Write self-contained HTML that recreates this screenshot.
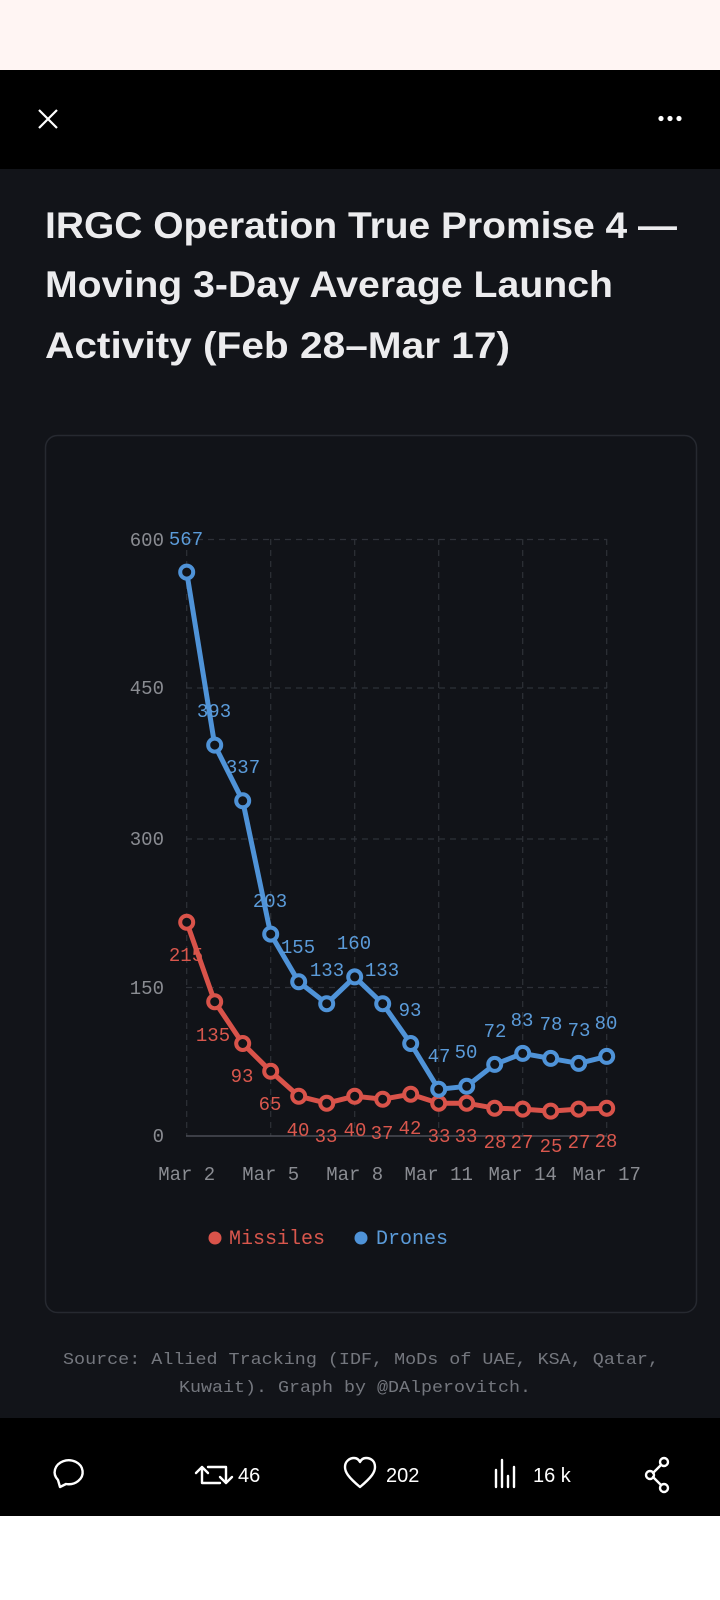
<!DOCTYPE html>
<html><head><meta charset="utf-8"><style>
html,body{margin:0;padding:0;width:720px;height:1600px;overflow:hidden;background:#fff}
svg{display:block}
</style></head><body>
<svg width="720" height="1600" viewBox="0 0 720 1600" xmlns="http://www.w3.org/2000/svg">
<rect x="0" y="0" width="720" height="70" fill="#fff5f3"/>
<rect x="0" y="70" width="720" height="99" fill="#000"/>
<rect x="0" y="169" width="720" height="1249" fill="#121419"/>
<rect x="0" y="1418" width="720" height="98" fill="#000"/>
<rect x="0" y="1516" width="720" height="84" fill="#fff"/>
<path d="M39 110 L57 128 M57 110 L39 128" stroke="#fff" stroke-width="2.2"/>
<circle cx="661" cy="118.5" r="2.6" fill="#fff"/><circle cx="670" cy="118.5" r="2.6" fill="#fff"/><circle cx="679" cy="118.5" r="2.6" fill="#fff"/>
<g font-family="Liberation Sans, sans-serif" font-weight="bold" font-size="37" fill="#ececee">
<text x="45" y="238" textLength="632" lengthAdjust="spacingAndGlyphs">IRGC Operation True Promise 4 —</text>
<text x="45" y="297" textLength="568" lengthAdjust="spacingAndGlyphs">Moving 3-Day Average Launch</text>
<text x="45" y="358" textLength="465" lengthAdjust="spacingAndGlyphs">Activity (Feb 28–Mar 17)</text>
</g>
<rect x="45.5" y="435.5" width="651" height="877" rx="12" fill="#111318" stroke="#262930" stroke-width="1.5"/>
<g stroke="#2e3138" stroke-width="1.2" stroke-dasharray="6 5">
<line x1="186" y1="539.5" x2="607" y2="539.5"/>
<line x1="186" y1="688" x2="607" y2="688"/>
<line x1="186" y1="839" x2="607" y2="839"/>
<line x1="186" y1="987.5" x2="607" y2="987.5"/>
<line x1="186.7" y1="539" x2="186.7" y2="1136"/>
<line x1="270.7" y1="539" x2="270.7" y2="1136"/>
<line x1="354.7" y1="539" x2="354.7" y2="1136"/>
<line x1="438.7" y1="539" x2="438.7" y2="1136"/>
<line x1="522.7" y1="539" x2="522.7" y2="1136"/>
<line x1="606.7" y1="539" x2="606.7" y2="1136"/>
</g>
<line x1="186" y1="1136" x2="607" y2="1136" stroke="#4a4d55" stroke-width="1.5"/>
<g font-family="Liberation Mono, monospace" font-size="19" fill="#8a8c92" text-anchor="end">
<text x="164" y="546">600</text><text x="164" y="694">450</text><text x="164" y="845">300</text><text x="164" y="994">150</text><text x="164" y="1142">0</text>
</g>
<g font-family="Liberation Mono, monospace" font-size="19" fill="#8a8c92" text-anchor="middle">
<text x="186.7" y="1180">Mar 2</text><text x="270.7" y="1180">Mar 5</text><text x="354.7" y="1180">Mar 8</text><text x="438.7" y="1180">Mar 11</text><text x="522.7" y="1180">Mar 14</text><text x="606.7" y="1180">Mar 17</text>
</g>
<polyline fill="none" stroke="#d9534a" stroke-width="5" stroke-linejoin="round" points="186.7,922.2 214.7,1001.7 242.7,1043.5 270.7,1071.3 298.7,1096.2 326.7,1103.2 354.7,1096.2 382.7,1099.2 410.7,1094.2 438.7,1103.2 466.7,1103.2 494.7,1108.2 522.7,1109.1 550.7,1111.1 578.7,1109.1 606.7,1108.2"/>
<g fill="#111318" stroke="#d9534a" stroke-width="4">
<circle cx="186.7" cy="922.2" r="6.5"/><circle cx="214.7" cy="1001.7" r="6.5"/><circle cx="242.7" cy="1043.5" r="6.5"/><circle cx="270.7" cy="1071.3" r="6.5"/><circle cx="298.7" cy="1096.2" r="6.5"/><circle cx="326.7" cy="1103.2" r="6.5"/><circle cx="354.7" cy="1096.2" r="6.5"/><circle cx="382.7" cy="1099.2" r="6.5"/><circle cx="410.7" cy="1094.2" r="6.5"/><circle cx="438.7" cy="1103.2" r="6.5"/><circle cx="466.7" cy="1103.2" r="6.5"/><circle cx="494.7" cy="1108.2" r="6.5"/><circle cx="522.7" cy="1109.1" r="6.5"/><circle cx="550.7" cy="1111.1" r="6.5"/><circle cx="578.7" cy="1109.1" r="6.5"/><circle cx="606.7" cy="1108.2" r="6.5"/>
</g>
<polyline fill="none" stroke="#4f93d8" stroke-width="5" stroke-linejoin="round" points="186.7,572.1 214.7,745.1 242.7,800.8 270.7,934.1 298.7,981.8 326.7,1003.7 354.7,976.9 382.7,1003.7 410.7,1043.5 438.7,1089.3 466.7,1086.3 494.7,1064.4 522.7,1053.4 550.7,1058.4 578.7,1063.4 606.7,1056.4"/>
<g fill="#111318" stroke="#4f93d8" stroke-width="4">
<circle cx="186.7" cy="572.1" r="6.5"/><circle cx="214.7" cy="745.1" r="6.5"/><circle cx="242.7" cy="800.8" r="6.5"/><circle cx="270.7" cy="934.1" r="6.5"/><circle cx="298.7" cy="981.8" r="6.5"/><circle cx="326.7" cy="1003.7" r="6.5"/><circle cx="354.7" cy="976.9" r="6.5"/><circle cx="382.7" cy="1003.7" r="6.5"/><circle cx="410.7" cy="1043.5" r="6.5"/><circle cx="438.7" cy="1089.3" r="6.5"/><circle cx="466.7" cy="1086.3" r="6.5"/><circle cx="494.7" cy="1064.4" r="6.5"/><circle cx="522.7" cy="1053.4" r="6.5"/><circle cx="550.7" cy="1058.4" r="6.5"/><circle cx="578.7" cy="1063.4" r="6.5"/><circle cx="606.7" cy="1056.4" r="6.5"/>
</g>
<g font-family="Liberation Mono, monospace" font-size="19" fill="#5b9bd9" text-anchor="middle" dominant-baseline="central">
<text x="186" y="540">567</text><text x="214" y="712">393</text><text x="243" y="768">337</text><text x="270" y="902">203</text><text x="298" y="948">155</text><text x="327" y="971">133</text><text x="354" y="944">160</text><text x="382" y="971">133</text><text x="410" y="1011">93</text><text x="439" y="1057">47</text><text x="466" y="1053">50</text><text x="495" y="1032">72</text><text x="522" y="1021">83</text><text x="551" y="1025">78</text><text x="579" y="1031">73</text><text x="606" y="1024">80</text>
</g>
<g font-family="Liberation Mono, monospace" font-size="19" fill="#d9574d" text-anchor="middle" dominant-baseline="central">
<text x="186" y="956">215</text><text x="213" y="1036">135</text><text x="242" y="1077">93</text><text x="270" y="1105">65</text><text x="298" y="1131">40</text><text x="326" y="1137">33</text><text x="355" y="1131">40</text><text x="382" y="1134">37</text><text x="410" y="1129">42</text><text x="439" y="1137">33</text><text x="466" y="1137">33</text><text x="495" y="1143">28</text><text x="522" y="1143">27</text><text x="551" y="1147">25</text><text x="579" y="1143">27</text><text x="606" y="1142">28</text>
</g>
<circle cx="215" cy="1238" r="6.5" fill="#d9534a"/>
<text x="229" y="1244" font-family="Liberation Mono, monospace" font-size="20" fill="#d9574d">Missiles</text>
<circle cx="361" cy="1238" r="6.5" fill="#4f93d8"/>
<text x="376" y="1244" font-family="Liberation Mono, monospace" font-size="20" fill="#5b9bd9">Drones</text>
<g font-family="Liberation Mono, monospace" font-size="17" fill="#74777e" text-anchor="middle">
<text x="361" y="1364" textLength="596" lengthAdjust="spacingAndGlyphs">Source: Allied Tracking (IDF, MoDs of UAE, KSA, Qatar,</text>
<text x="355" y="1392" textLength="352" lengthAdjust="spacingAndGlyphs">Kuwait). Graph by @DAlperovitch.</text>
</g>
<g stroke="#fff" stroke-width="2.4" fill="none" stroke-linejoin="round" stroke-linecap="round">
<path d="M60 1487 L58 1480 A14 12 0 1 1 66 1484 Z"/>
<path d="M202 1467 L196 1473 M202 1467 L208 1473 M202 1467 V1483 H220 M226 1483 L220 1477 M226 1483 L232 1477 M226 1483 V1467 H208"/>
<path d="M360 1487 C348 1477 345 1472 345 1467 C345 1461 350 1458 354 1458 C357 1458 359 1460 360 1462 C361 1460 363 1458 366 1458 C371 1458 375 1461 375 1467 C375 1472 372 1477 360 1487 Z"/>
<path d="M496 1487 V1470 M502 1487 V1460 M508 1487 V1476 M514 1487 V1467"/>
<circle cx="664" cy="1462" r="4"/><circle cx="664" cy="1488" r="4"/><circle cx="650" cy="1475" r="4"/>
<path d="M653 1473 L661 1465 M653 1477 L661 1485"/>
</g>
<g font-family="Liberation Sans, sans-serif" font-size="20" fill="#fff">
<text x="238" y="1482">46</text><text x="386" y="1482">202</text><text x="533" y="1482">16 k</text>
</g>
</svg>
</body></html>
